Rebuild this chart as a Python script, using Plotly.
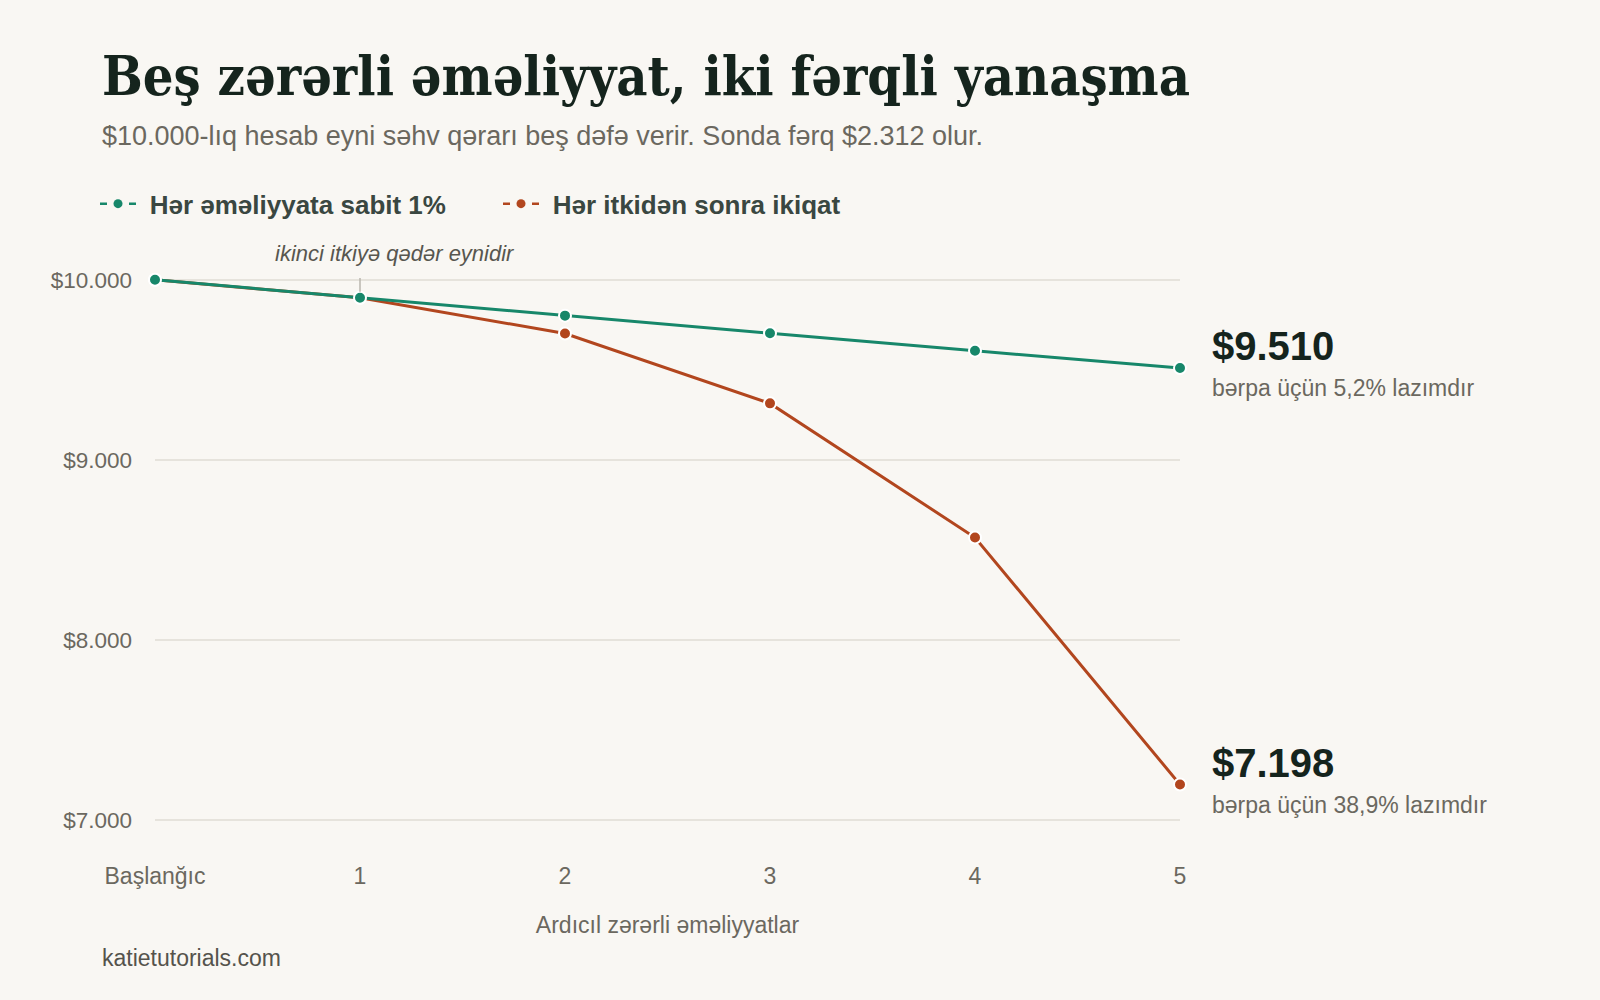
import plotly.graph_objects as go

# ---- data ----
steps = ["Başlanğıc", "1", "2", "3", "4", "5"]
fixed_values = [10000, 9900, 9801, 9703, 9606, 9510]
doubling_values = [10000, 9900, 9702, 9314, 8569, 7198]
series_names = ["Hər əməliyyata sabit 1%", "Hər itkidən sonra ikiqat"]
end_values = [9510, 7198]
end_labels = ["$9.510", "$7.198"]
end_notes = ["bərpa üçün 5,2% lazımdır", "bərpa üçün 38,9% lazımdır"]
y_ticks = [7000, 8000, 9000, 10000]
y_tick_labels = ["$7.000", "$8.000", "$9.000", "$10.000"]

title_text = "Beş zərərli əməliyyat, iki fərqli yanaşma"
subtitle_text = "$10.000-lıq hesab eyni səhv qərarı beş dəfə verir. Sonda fərq $2.312 olur."
note_text = "ikinci itkiyə qədər eynidir"
x_title = "Ardıcıl zərərli əməliyyatlar"
source_text = "katietutorials.com"

# ---- style ----
GREEN = "#17876a"
RUST = "#b2461e"
BG = "#f9f7f3"
GRID = "#e6e3dc"
TICK = "#6b685f"
DARK = "#15241d"
SANS = "Liberation Sans, Arial, sans-serif"
SERIF = "DejaVu Serif Condensed, DejaVu Serif, serif"

W, H = 1600, 1000
Y_LO, Y_HI = 7000, 10000
PAD = 10  # data units beyond range so edge gridlines render
L, R = 155, 1180
T0, B0 = 280, 820
ppu = (B0 - T0) / (Y_HI - Y_LO)
T = T0 - PAD * ppu
B = B0 + PAD * ppu


def px_x(p):
    return (p - L) / (R - L)


def px_y(p):
    return (B - p) / (B - T)


xs = list(range(len(steps)))
fig = go.Figure()
colors = [GREEN, RUST]
series_vals = [fixed_values, doubling_values]
# draw the doubling series first so the fixed series sits on top where they overlap
for i in [1, 0]:
    fig.add_trace(go.Scatter(
        x=xs, y=series_vals[i], mode="lines+markers", name=series_names[i], showlegend=False,
        line=dict(color=colors[i], width=3),
        marker=dict(size=12, color=colors[i], line=dict(color="white", width=2)),
        cliponaxis=False, hoverinfo="skip"))
for name, col in zip(series_names, colors):
    fig.add_trace(go.Scatter(
        x=[None], y=[None], mode="lines+markers", name="\u2004" + name,
        line=dict(color=col, width=2.5, dash="7px,7px,8px,7px,7px"),
        marker=dict(size=9, color=col)))

# end labels
for v, lab, note, col in zip(end_values, end_labels, end_notes, colors):
    fig.add_annotation(x=xs[-1], y=v, text=f"<b>{lab}</b>", showarrow=False,
                       xanchor="left", yanchor="middle", xshift=30, yshift=22,
                       font=dict(family=SANS, size=40, color=DARK))
    fig.add_annotation(x=xs[-1], y=v, text=note, showarrow=False,
                       xanchor="left", yanchor="middle", xshift=30, yshift=-20,
                       font=dict(family=SANS, size=23, color=TICK))

# note at step 1
fig.add_annotation(x=xs[1], y=fixed_values[1], text=f"<i>{note_text}</i>", showarrow=False,
                   xanchor="center", yanchor="middle", xshift=35, yshift=44,
                   font=dict(family=SANS, size=22, color="#57564f"))
fig.add_shape(type="line", xref="x", yref="y", x0=xs[1], x1=xs[1],
              ysizemode="pixel", yanchor=fixed_values[1], y0=6, y1=30,
              line=dict(color="#b9b6ae", width=1.5))

# title, subtitle, source
fig.add_annotation(xref="paper", yref="paper", x=px_x(100), y=px_y(77),
                   text=f"<b>{title_text}</b>", showarrow=False, xanchor="left", yanchor="middle",
                   font=dict(family=SERIF, size=53.7, color=DARK))
fig.add_annotation(xref="paper", yref="paper", x=px_x(100), y=px_y(136),
                   text=subtitle_text, showarrow=False, xanchor="left", yanchor="middle",
                   font=dict(family=SANS, size=27, color="#6b685f"))
fig.add_annotation(xref="paper", yref="paper", x=px_x(100), y=px_y(958),
                   text=source_text, showarrow=False, xanchor="left", yanchor="middle",
                   font=dict(family=SANS, size=23, color="#55534c"))

fig.update_layout(
    width=W, height=H,
    margin=dict(l=L, r=W - R, t=T, b=H - B, pad=0),
    paper_bgcolor=BG, plot_bgcolor=BG,
    showlegend=True,
    legend=dict(orientation="h", x=px_x(95), y=px_y(204), xanchor="left", yanchor="middle",
                font=dict(family=SANS, size=26, color="#3a4741", weight="bold"),
                bgcolor="rgba(0,0,0,0)", entrywidth=352, entrywidthmode="pixels",
                itemwidth=36),
    xaxis=dict(range=[0, 5], tickmode="array", tickvals=xs, ticktext=steps,
               showgrid=False, zeroline=False, showline=False, ticks="",
               ticklabelstandoff=38,
               tickfont=dict(family=SANS, size=23, color=TICK),
               title=dict(text=x_title, standoff=28,
                          font=dict(family=SANS, size=23, color=TICK))),
    yaxis=dict(range=[Y_LO - PAD, Y_HI + PAD], tickmode="array", tickvals=y_ticks,
               ticktext=y_tick_labels,
               showgrid=True, gridcolor=GRID, gridwidth=1.5, zeroline=False, showline=False,
               ticks="", ticklabelstandoff=22,
               tickfont=dict(family=SANS, size=22.5, color=TICK)),
    hovermode=False,
)

fig.write_html(
    "out.html",
    config={"displayModeBar": False},
    post_script="document.body.style.margin='0';document.body.style.background='" + BG + "';",
)
